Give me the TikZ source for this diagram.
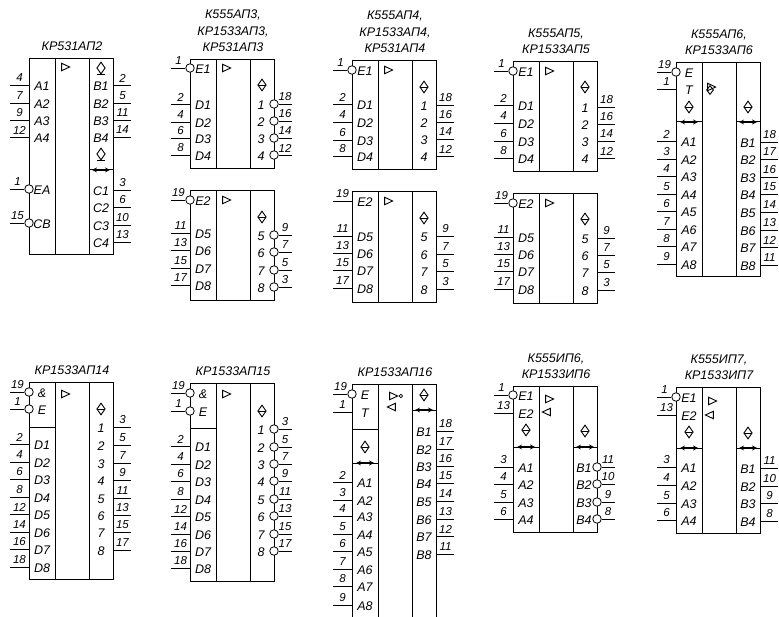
\documentclass[tikz,border=0pt]{standalone}
\usepackage{fontspec}
\setmainfont{Liberation Sans}
\usepackage{tikz}
\usetikzlibrary{shapes,arrows,positioning,calc}

\newcommand{\lpins}[2]{\foreach \y/\num/\lab in {#2} {
  \coordinate (#1p\num) at ($(#1l.west |- 0,\y)+(-19,0)$);
  \draw[wire] (#1p\num) -- (#1l.west |- #1p\num);
  \node[pinno] (#1n\num) at ($(#1p\num)+(9.5,-7)$) {\num};
  \node[lbl] (#1t\num) at ($(#1l.center |- #1p\num)+(0,1.5)$) {\lab};
}}
\newcommand{\lbubs}[2]{\foreach \y/\num/\lab in {#2} {
  \coordinate (#1p\num) at ($(#1l.west |- 0,\y)+(-19,0)$);
  \node[bub] (#1b\num) at (#1l.west |- #1p\num) {};
  \draw[wire] (#1p\num) -- (#1b\num.west);
  \node[pinno] (#1n\num) at ($(#1p\num)+(7.5,-7)$) {\num};
  \node[lbl] (#1t\num) at ($(#1l.center |- #1p\num)+(0,1.5)$) {\lab};
}}
\newcommand{\rpins}[2]{\foreach \y/\num/\lab in {#2} {
  \coordinate (#1p\num) at ($(#1r.east |- 0,\y)+(18,0)$);
  \draw[wire] (#1r.east |- #1p\num) -- (#1p\num);
  \node[pinno] (#1n\num) at ($(#1p\num)+(-8.5,-7)$) {\num};
  \node[lbl] (#1t\num) at ($(#1r.center |- #1p\num)+(0,1.5)$) {\lab};
}}
\newcommand{\rbubs}[2]{\foreach \y/\num/\lab in {#2} {
  \coordinate (#1p\num) at ($(#1r.east |- 0,\y)+(18,0)$);
  \node[bub] (#1b\num) at (#1r.east |- #1p\num) {};
  \draw[wire] (#1b\num.east) -- (#1p\num);
  \node[pinno] (#1n\num) at ($(#1p\num)+(-7,-7)$) {\num};
  \node[lbl] (#1t\num) at ($(#1r.center |- #1p\num)+(-1,1.5)$) {\lab};
}}

\begin{document}
\begin{tikzpicture}[
    x=1pt, y=-1pt,
    node distance=0pt,
    lcol/.style={draw, rectangle, line width=0.9pt, inner sep=0pt, outer sep=0pt, minimum width=26pt, anchor=north west},
    mcol/.style={draw, rectangle, line width=0.9pt, inner sep=0pt, outer sep=0pt, minimum width=34pt},
    rcol/.style={draw, rectangle, line width=0.9pt, inner sep=0pt, outer sep=0pt, minimum width=24pt},
    wire/.style={line width=0.8pt},
    bub/.style={draw, circle, fill=white, line width=0.8pt, inner sep=0pt, minimum size=8.5pt},
    minibub/.style={draw, circle, line width=0.7pt, inner sep=0pt, minimum size=3.5pt},
    lbl/.style={font=\fontsize{12.5}{14}\selectfont\itshape, inner sep=0pt},
    pinno/.style={font=\fontsize{11.5}{13}\selectfont\itshape, inner sep=0pt},
    chiptitle/.style={font=\fontsize{12.5}{16.5}\selectfont\itshape, align=center, inner sep=0pt, above=7pt of #1},
    tri/.style={draw, isosceles triangle, isosceles triangle stretches, line width=0.9pt, inner sep=0pt, minimum width=7.5pt, minimum height=8pt},
    tril/.style={tri, shape border rotate=180},
    dmd/.style={draw, diamond, line width=0.9pt, inner sep=0pt, minimum width=8.5pt, minimum height=12pt},
    dmdbar/.style={dmd, path picture={\draw[line width=0.8pt] (path picture bounding box.west) -- (path picture bounding box.east);}},
    bar/.style={line width=1pt},
    arrow/.style={<->, >=stealth, line width=1.2pt}
]

\clip (0,0) rectangle (779,617);

% Chips
\foreach \chip/\x/\ytop/\h in {ap2/29/58/196, ap3a/190/59/109, ap3b/190/190/110,
    ap4a/352/60/109, ap4b/352/191/111, ap5a/513/61/110, ap5b/513/193/110, ap6/676/62/214,
    ap14/29/382/197, ap15/190/383/198, ap16/352/384/240, ip6/513/386/146, ip7/676/387/146} {
  \node[lcol, minimum height=\h pt] (\chip l) at (\x,\ytop) {};
  \node[mcol, minimum height=\h pt, right=of \chip l] (\chip m) {};
  \node[rcol, minimum height=\h pt, right=of \chip m] (\chip r) {};
}

% Titles
\node[chiptitle=ap2m] (ap2title) {КР531АП2};
\node[chiptitle=ap3am] (ap3title) {К555АП3,\\КР1533АП3,\\КР531АП3};
\node[chiptitle=ap4am] (ap4title) {К555АП4,\\КР1533АП4,\\КР531АП4};
\node[chiptitle=ap5am] (ap5title) {К555АП5,\\КР1533АП5};
\node[chiptitle=ap6m] (ap6title) {К555АП6,\\КР1533АП6};
\node[chiptitle=ap14m] (ap14title) {КР1533АП14};
\node[chiptitle=ap15m] (ap15title) {КР1533АП15};
\node[chiptitle=ap16m] (ap16title) {КР1533АП16};
\node[chiptitle=ip6m] (ip6title) {К555ИП6,\\КР1533ИП6};
\node[chiptitle=ip7m] (ip7title) {К555ИП7,\\КР1533ИП7};

% Pins
\lpins{ap2}{85/4/A1,103/7/A2,120/9/A3,137/12/A4}
\lbubs{ap2}{189/1/EA,223/15/CB}
\rpins{ap2}{85/2/B1,103/5/B2,120/11/B3,137/14/B4,190/3/C1,207/6/C2,225/10/C3,242/13/C4}

\lbubs{ap3a}{68/1/E1}
\lpins{ap3a}{104/2/D1,122/4/D2,138/6/D3,155/8/D4}
\rbubs{ap3a}{104/18/1,121/16/2,138/14/3,155/12/4}
\lbubs{ap3b}{200/19/E2}
\lpins{ap3b}{233/11/D5,250/13/D6,268/15/D7,285/17/D8}
\rbubs{ap3b}{235/9/5,252/7/6,270/5/7,287/3/8}

\lbubs{ap4a}{70/1/E1}
\lpins{ap4a}{104/2/D1,122/4/D2,140/6/D3,156/8/D4}
\rpins{ap4a}{105/18/1,122/16/2,139/14/3,156/12/4}
\lpins{ap4b}{201/19/E2,236/11/D5,253/13/D6,270/15/D7,288/17/D8}
\rpins{ap4b}{236/9/5,254/7/6,271/5/7,289/3/8}

\lbubs{ap5a}{71/1/E1}
\lpins{ap5a}{105/2/D1,123/4/D2,141/6/D3,158/8/D4}
\rpins{ap5a}{107/18/1,124/16/2,141/14/3,158/12/4}
\lbubs{ap5b}{203/19/E2}
\lpins{ap5b}{237/11/D5,254/13/D6,271/15/D7,289/17/D8}
\rpins{ap5b}{238/9/5,255/7/6,272/5/7,290/3/8}

\lbubs{ap6}{72/19/E}
\lpins{ap6}{89/1/T,141/2/A1,159/3/A2,176/4/A3,194/5/A4,211/6/A5,229/7/A6,246/8/A7,264/9/A8}
\rpins{ap6}{142/18/B1,159/17/B2,177/16/B3,194/15/B4,212/14/B5,230/13/B6,247/12/B7,265/11/B8}

\lbubs{ap14}{392/19/\&,409/1/E}
\lpins{ap14}{444/2/D1,462/4/D2,479/6/D3,497/8/D4,514/12/D5,532/14/D6,549/16/D7,567/18/D8}
\rpins{ap14}{427/3/1,445/5/2,463/7/3,480/9/4,498/11/5,515/13/6,532/15/7,550/17/8}

\lbubs{ap15}{393/19/\&,411/1/E}
\lpins{ap15}{446/2/D1,464/4/D2,481/6/D3,499/8/D4,516/12/D5,534/14/D6,551/16/D7,568/18/D8}
\rbubs{ap15}{429/3/1,447/5/2,464/7/3,481/9/4,499/11/5,516/13/6,534/15/7,551/17/8}

\lbubs{ap16}{394/19/E}
\lpins{ap16}{412/1/T,482/2/A1,500/3/A2,516/4/A3,534/5/A4,551/6/A5,569/7/A6,586/8/A7,605/9/A8}
\rpins{ap16}{431/18/B1,449/17/B2,466/16/B3,483/15/B4,501/14/B5,519/13/B6,536/12/B7,554/11/B8}

\lbubs{ip6}{395/1/E1}
\lpins{ip6}{413/13/E2,467/3/A1,484/4/A2,502/5/A3,519/6/A4}
\rbubs{ip6}{467/11/B1,484/10/B2,502/9/B3,519/8/B4}

\lbubs{ip7}{397/1/E1}
\lpins{ip7}{415/13/E2,467/3/A1,485/4/A2,503/5/A3,520/6/A4}
\rpins{ip7}{468/11/B1,486/10/B2,503/9/B3,521/8/B4}

% Symbols
\foreach \chip/\y in {ap2/67, ap3a/68, ap3b/200, ap4a/70, ap4b/201, ap5a/71, ap5b/203,
    ap14/394, ap15/394, ip6/399, ip7/401} {
  \node[tri] (\chip tri) at ($(\chip m.west |- 0,\y)+(9,0)$) {};
}
\node[tri] (ap6tri) at ($(ap6m.west |- 0,87)+(8,0)$) {};
\node[dmd, minimum width=7pt, minimum height=9pt] (ap6dia) at ($(ap6m.west |- 0,90)+(8,0)$) {};
\node[tri] (ap16tri) at ($(ap16m.west |- 0,396)+(14,0)$) {};
\node[minibub, right=of ap16tri] (ap16bub) {};
\node[tril] (ap16tril) at ($(ap16m.west |- 0,407)+(15,0)$) {};
\node[tril] (ip6tril) at ($(ip6m.west |- 0,412)+(9,0)$) {};
\node[tril] (ip7tril) at ($(ip7m.west |- 0,415)+(9,0)$) {};

\foreach \col/\y in {ap3ar/85, ap3br/217, ap4ar/87, ap4br/218, ap5ar/87, ap5br/219,
    ap6l/107, ap6r/107, ap14r/409, ap15r/411, ap16l/447, ap16r/395,
    ip6l/430, ip6r/431, ip7l/432, ip7r/433} {
  \node[dmdbar] (\col d\y) at (\col.center |- 0,\y) {};
}
\node[dmd] (ap2dtop) at (ap2r.center |- 0,68) {};
\node[dmd] (ap2dlow) at (ap2r.center |- 0,154) {};
\draw[bar] ($(ap2dtop.south)+(-4,0)$) -- ($(ap2dtop.south)+(4,0)$);
\draw[bar] ($(ap2dlow.south)+(-4,0)$) -- ($(ap2dlow.south)+(4,0)$);

% Bidirectional marks
\foreach \col/\y in {ap2r/170, ap6l/122, ap6r/122, ap16l/463, ap16r/410,
    ip6l/447, ip6r/447, ip7l/448, ip7r/448} {
  \draw[bar] (\col.west |- 0,\y) -- (\col.east |- 0,\y);
  \draw[arrow] ($(\col.center |- 0,\y)+(-9,0)$) -- ($(\col.center |- 0,\y)+(9,0)$);
}

% Dividers below the enable block
\foreach \chip/\y in {ap14/427, ap15/428, ap16/429} {
  \draw[bar] (\chip l.west |- 0,\y) -- (\chip l.east |- 0,\y);
}

\end{tikzpicture}
\end{document}
